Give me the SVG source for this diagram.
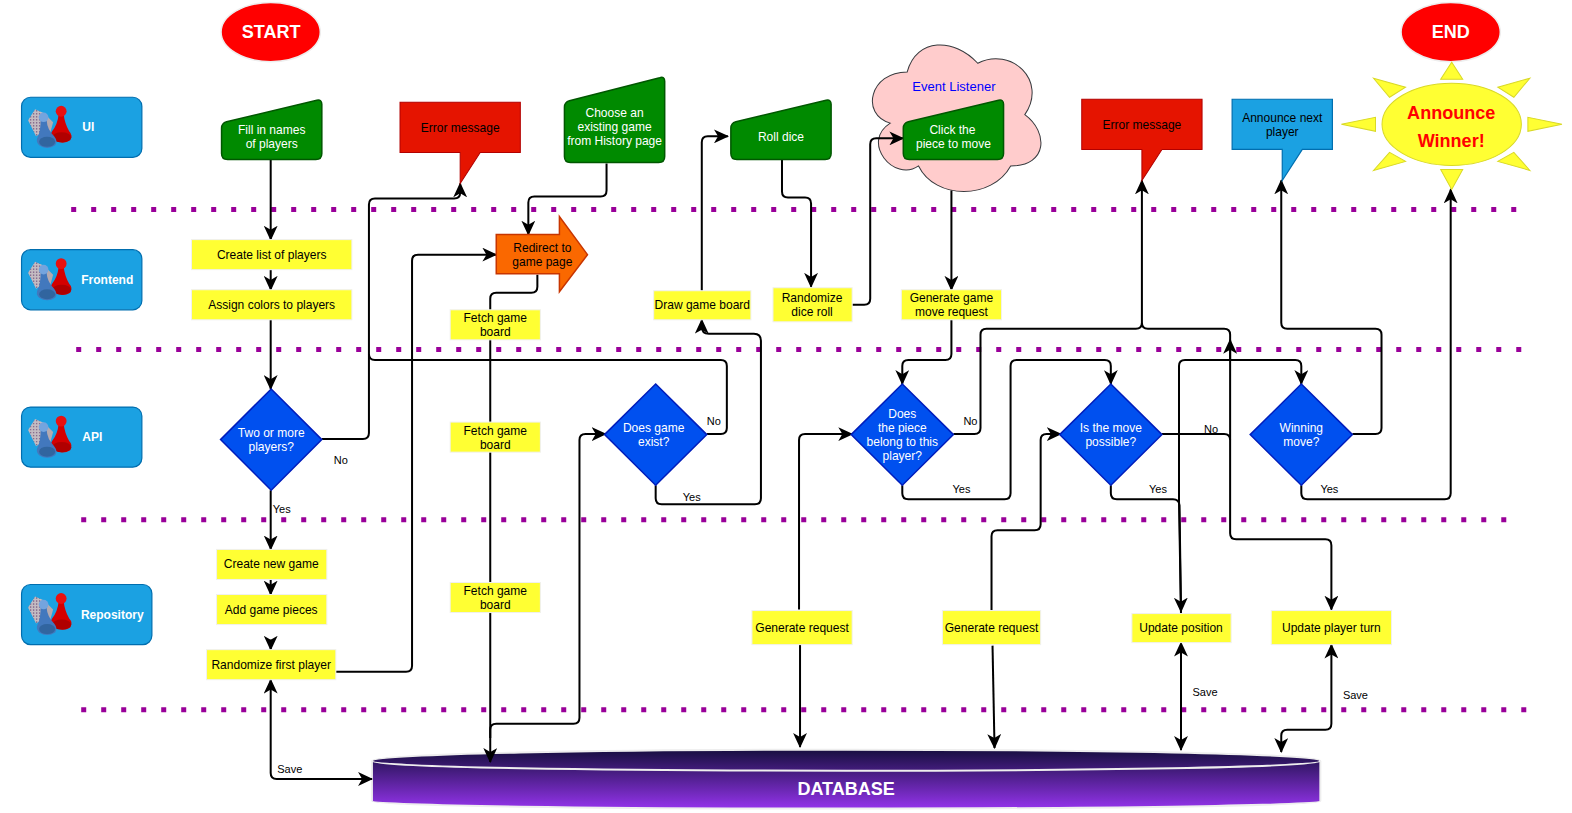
<svg xmlns="http://www.w3.org/2000/svg" width="1572" height="813" viewBox="0 0 1572 813">
<style>
text{font-family:"Liberation Sans",Arial,sans-serif;font-size:12px;text-anchor:middle;dominant-baseline:central;fill:#000}
.w{fill:#fff}
.lab{font-size:11px}
.b{font-weight:bold}
.big{font-size:18px;font-weight:bold;fill:#fff}
.y{fill:#ffff33;stroke:#f0f0f0;stroke-width:1}
.g{fill:#008a00;stroke:#005700;stroke-width:1.5}
.d{fill:#0050ef;stroke:#001dbc;stroke-width:1.5}
.s{fill:#1ba1e2;stroke:#006eaf;stroke-width:1.2}
.r{fill:#e51400;stroke:#b20000;stroke-width:1}
.o{fill:#ff0000;stroke:#eeeeee;stroke-width:1.5}
.ray{fill:#ffff33;stroke:#d9d926;stroke-width:1}
.sep{stroke:#990099;stroke-width:5;stroke-dasharray:5 14.95;fill:none}
.c path{fill:none;stroke:#000;stroke-width:2}
.a{marker-end:url(#ah)}
.aa{marker-start:url(#ah);marker-end:url(#ah)}
</style>
<defs>
<marker id="ah" markerUnits="userSpaceOnUse" markerWidth="15" markerHeight="14" viewBox="0 0 13 12" refX="12" refY="6" orient="auto-start-reverse"><path d="M13,6 L0,0 L3.5,6 L0,12 Z" fill="#000"/></marker>
<linearGradient id="dbg" x1="0" y1="0" x2="0" y2="1"><stop offset="0" stop-color="#170f40"/><stop offset="1" stop-color="#9333ea"/></linearGradient>
<pattern id="dots" width="3" height="3" patternUnits="userSpaceOnUse"><rect width="3" height="3" fill="#c4bcc2"/><circle cx="1.5" cy="1.5" r="0.8" fill="#7a5a84"/></pattern>
<symbol id="icon" width="60" height="60" viewBox="0 0 60 60" overflow="visible">
<path d="M15,12 L8,23 L16,39 L24,34 L24,16 Z" fill="url(#dots)"/>
<path d="M15,12 L24,16 L33,25 L30,36 L24,34 L24,16 Z" fill="#b4aab0"/>
<path d="M38.500,17 Q37.500,27 32,34 Q29,39 33,42 Q42,48 50,43 Q53,38 49,34 Q44.500,26 43.500,17 Z" fill="#d40000"/>
<ellipse cx="41.500" cy="40" rx="9.500" ry="5" fill="#b00000"/>
<circle cx="41" cy="14" r="5.400" fill="#e81010"/>
<path d="M20.500,23 Q20.500,33 18,39 Q15,44 19,48 Q27,53 35,48 Q38,44 34,39 Q27,32 26.500,23 Z" fill="#4278bd"/>
<ellipse cx="27" cy="44.500" rx="8" ry="5" fill="#31659f"/>
<circle cx="23.500" cy="20" r="4.800" fill="#74a4de"/>
</symbol>
</defs>
<g transform="scale(1.00255)">

<g id="database">
<path d="M371,759 C371,744 1317,744 1317,759 V799 C1317,809 371,809 371,799 Z" fill="url(#dbg)" stroke="#eeeeee" stroke-width="2"/>
<path d="M371,759 C371,772 1317,772 1317,759" fill="none" stroke="#eeeeee" stroke-width="2"/>
<text class="big" x="844" y="787">DATABASE</text>
</g>

<g id="separators">
<path class="sep" d="M71,209 H1516"/>
<path class="sep" d="M76,348.500 H1522"/>
<path class="sep" d="M81,518.500 H1506"/>
<path class="sep" d="M81,708 H1526"/>
</g>

<g id="node-event-listener">
<path d="M904.9,71.7 C867.4,71.7 858,114.3 888,122.8 C858,141.6 891.8,182.5 916.2,165.5 C933,199.6 989.3,199.6 1008.1,165.5 C1045.6,165.5 1045.6,131.4 1022.2,114.3 C1045.6,80.2 1008.1,46.1 975.3,63.1 C951.8,37.5 914.3,37.5 904.9,71.7 Z" fill="#ffcccc" stroke="#36393d" stroke-width="1"/>
<text x="951.500" y="86.500" style="fill:#0000ff;font-size:13px">Event Listener</text>
</g>

<g id="connectors" class="c">
<path class="a" d="M270,159 V239"/>
<path class="a" d="M270,269 V289"/>
<path class="a" d="M270,319 V388"/>
<path class="a" d="M321,438 H362 Q368,438 368,432 V204 Q368,198 374,198 H453 Q459,198 459,192 V183"/>
<path d="M705,433 H719 Q725,433 725,427 V365 Q725,359 719,359 H374 Q368,359 368,353"/>
<path class="a" d="M270,489 V548"/>
<path class="a" d="M270,578 V593"/>
<path class="a" d="M270,638 V648"/>
<path class="a" d="M335,670 H405 Q411,670 411,664 V260 Q411,254 417,254 H495"/>
<path class="aa" d="M270,678 V771 Q270,777 276,777 H371"/>
<path class="a" d="M605,163 V190 Q605,196 599,196 H533 Q527,196 527,202 V234"/>
<path class="a" d="M536,274 V286 Q536,292 530,292 H495 Q489,292 489,298 V760"/>
<path class="a" d="M489,736 V728 Q489,722 495,722 H572 Q578,722 578,716 V439 Q578,433 584,433 H604"/>
<path class="a" d="M654,484 V497 Q654,503 660,503 H753 Q759,503 759,497 V340 Q759,333 752,333 H707 Q700,333 700,326 V319"/>
<path class="a" d="M700,290 V142 Q700,136 706,136 H726"/>
<path class="a" d="M780,159 V191 Q780,197 786,197 H803 Q809,197 809,203 V286"/>
<path class="a" d="M850,304 H862 Q868,304 868,298 V144 Q868,138 874,138 H901"/>
<path class="a" d="M949,190 V289"/>
<path class="a" d="M949,319 V353 Q949,359 943,359 H906 Q900,359 900,365 V383"/>
<path class="a" d="M900,484 V492 Q900,498 906,498 H1002 Q1008,498 1008,492 V365 Q1008,359 1014,359 H1102 Q1108,359 1108,365 V383"/>
<path class="a" d="M951,433 H972 Q978,433 978,427 V334 Q978,328 984,328 H1133 Q1139,328 1139,322 V180"/>
<path d="M1227,439 V334 Q1227,328 1221,328 H1145 Q1139,328 1139,322"/>
<path class="a" d="M1227,360 V339"/>
<path class="a" d="M1159,433 H1221 Q1227,433 1227,439 V532 Q1227,538 1233,538 H1322 Q1328,538 1328,544 V608"/>
<path class="a" d="M1108,484 V492 Q1108,498 1114,498 H1170 Q1176,498 1176.500,504 L1178,610"/>
<path class="a" d="M1178,612 L1176,500 V365 Q1176,359 1182,359 H1292 Q1298,359 1298,365 V383"/>
<path class="a" d="M1349,433 H1372 Q1378,433 1378,427 V334 Q1378,328 1372,328 H1284 Q1278,328 1278,322 V180"/>
<path class="a" d="M1298,484 V492 Q1298,498 1304,498 H1441 Q1447,498 1447,492 V189"/>
<path class="a" d="M797,608 V439 Q797,433 803,433 H850"/>
<path class="a" d="M798,643 L798,745"/>
<path class="a" d="M989,609 V535 Q989,529 995,529 H1032 Q1038,529 1038,523 V439 Q1038,433 1044,433 H1058"/>
<path class="a" d="M990,644 L992,746"/>
<path class="aa" d="M1178,641 V748"/>
<path class="aa" d="M1328,643 V722 Q1328,728 1322,728 H1284 Q1278,728 1278,734 V750"/>
</g>

<g id="labels">
<text class="lab" x="340" y="459">No</text>
<text class="lab" x="281" y="508">Yes</text>
<text class="lab" x="712" y="420">No</text>
<text class="lab" x="690" y="496">Yes</text>
<text class="lab" x="968" y="420">No</text>
<text class="lab" x="959" y="488">Yes</text>
<text class="lab" x="1208" y="428">No</text>
<text class="lab" x="1155" y="488">Yes</text>
<text class="lab" x="1326" y="488">Yes</text>
<text class="lab" x="289" y="767">Save</text>
<text class="lab" x="1202" y="690">Save</text>
<text class="lab" x="1352" y="693">Save</text>
</g>

<g id="lane-ui"><rect class="s" x="21.500" y="97" width="120" height="60" rx="9"/><use href="#icon" x="20" y="97"/><text class="b w" x="88" y="127">UI</text></g>
<g id="lane-frontend"><rect class="s" x="21.500" y="249" width="120" height="60" rx="9"/><use href="#icon" x="20" y="249"/><text class="b w" x="107" y="279">Frontend</text></g>
<g id="lane-api"><rect class="s" x="21.500" y="406" width="120" height="60" rx="9"/><use href="#icon" x="20" y="406"/><text class="b w" x="92" y="436">API</text></g>
<g id="lane-repository"><rect class="s" x="21.500" y="583" width="130" height="60" rx="9"/><use href="#icon" x="20" y="583"/><text class="b w" x="112" y="613">Repository</text></g>

<g id="start"><ellipse class="o" cx="270" cy="32" rx="49.500" ry="29.500"/><text class="big" x="270.500" y="32">START</text></g>
<g id="end"><ellipse class="o" cx="1447" cy="32" rx="49.500" ry="29.500"/><text class="big" x="1447" y="32">END</text></g>

<g id="fill-names"><path class="g" d="M221,128 Q221,123 226,121.500 L316,100 Q321,99 321,104 V153 Q321,159 315,159 H227 Q221,159 221,153 Z"/><text class="w" x="271" y="129.500">Fill in names</text><text class="w" x="271" y="143.500">of players</text></g>
<g id="choose-game"><path class="g" d="M563,107 Q563,102 568,100.500 L658,77.500 Q663,76 663,81 V156 Q663,162 657,162 H569 Q563,162 563,156 Z"/><text class="w" x="613" y="112.500">Choose an</text><text class="w" x="613" y="126.500">existing game</text><text class="w" x="613" y="140.500">from History page</text></g>
<g id="roll-dice"><path class="g" d="M729,128 Q729,123 734,121.500 L824,100 Q829,99 829,104 V153 Q829,159 823,159 H735 Q729,159 729,153 Z"/><text class="w" x="779" y="136.500">Roll dice</text></g>
<g id="click-piece"><path class="g" d="M901,128 Q901,123 906,121.500 L996,100 Q1001,99 1001,104 V153 Q1001,159 995,159 H907 Q901,159 901,153 Z"/><text class="w" x="950" y="129.500">Click the</text><text class="w" x="951" y="143.500">piece to move</text></g>

<g id="error-1"><path class="r" d="M399,102 H519 V152 H479 L459,183 V152 H399 Z"/><text x="459" y="127.500">Error message</text></g>
<g id="error-2"><path class="r" d="M1079,99 H1199 V149 H1159 L1139,180 V149 H1079 Z"/><text x="1139" y="124.500">Error message</text></g>
<g id="announce-next"><path class="s" d="M1229,99 H1329 V149 H1299 L1279,180 V149 H1229 Z"/><text x="1279" y="117.500">Announce next</text><text x="1279" y="131.500">player</text></g>

<g id="announce-winner">
<ellipse class="ray" cx="1448" cy="124" rx="69.500" ry="41"/>
<path class="ray" d="M1437,79 H1459 L1448,62 Z"/>
<path class="ray" d="M1437,169 H1459 L1448,189 Z"/>
<path class="ray" d="M1338,124 L1372,117 V131 Z"/>
<path class="ray" d="M1558,124 L1524,117 V131 Z"/>
<path class="ray" d="M1370,78 L1402,87 L1386,97 Z"/>
<path class="ray" d="M1526,78 L1494,87 L1510,97 Z"/>
<path class="ray" d="M1370,170 L1402,161 L1386,152 Z"/>
<path class="ray" d="M1526,170 L1494,161 L1510,152 Z"/>
<text class="b" x="1447.500" y="113" style="font-size:18px;fill:#ff0000">Announce</text>
<text class="b" x="1447.500" y="141" style="font-size:18px;fill:#ff0000">Winner!</text>
</g>

<g id="create-list"><rect class="y" x="191" y="239" width="160" height="30"/><text x="271" y="254">Create list of players</text></g>
<g id="assign-colors"><rect class="y" x="191" y="289" width="160" height="30"/><text x="271" y="304">Assign colors to players</text></g>
<g id="redirect"><path d="M495,234 H558 V216 L586,254 L558,291 V273 H495 Z" fill="#fa6800" stroke="#c73500" stroke-width="1.500"/><text x="541" y="247.500">Redirect to</text><text x="541" y="261.500">game page</text></g>
<g id="fetch-1"><rect class="y" x="449" y="309" width="90" height="30"/><text x="494" y="317">Fetch game</text><text x="494" y="331">board</text></g>
<g id="fetch-2"><rect class="y" x="449" y="421" width="90" height="30"/><text x="494" y="429.500">Fetch game</text><text x="494" y="443.500">board</text></g>
<g id="fetch-3"><rect class="y" x="449" y="581" width="90" height="30"/><text x="494" y="589.500">Fetch game</text><text x="494" y="603.500">board</text></g>
<g id="draw-board"><rect class="y" x="652" y="290" width="97" height="29"/><text x="700.500" y="304">Draw game board</text></g>
<g id="randomize-dice"><rect class="y" x="771" y="287" width="79" height="34"/><text x="810" y="297">Randomize</text><text x="810" y="311">dice roll</text></g>
<g id="generate-move"><rect class="y" x="899" y="289" width="100" height="30"/><text x="949" y="297">Generate game</text><text x="949" y="311">move request</text></g>

<g id="two-players"><path class="d" d="M270.500,388 L321,438.500 L270.500,489 L220,438.500 Z"/><text class="w" x="270.500" y="432">Two or more</text><text class="w" x="270.500" y="446">players?</text></g>
<g id="game-exist"><path class="d" d="M654,383 L705,433.500 L654,484 L603,433.500 Z"/><text class="w" x="652" y="427">Does game</text><text class="w" x="652" y="441">exist?</text></g>
<g id="piece-belong"><path class="d" d="M900,383 L951,433.500 L900,484 L849,433.500 Z"/><text class="w" x="900" y="412.500">Does</text><text class="w" x="900" y="426.500">the piece</text><text class="w" x="900" y="440.500">belong to this</text><text class="w" x="900" y="454.500">player?</text></g>
<g id="move-possible"><path class="d" d="M1108,383 L1159,433.500 L1108,484 L1057,433.500 Z"/><text class="w" x="1108" y="427">Is the move</text><text class="w" x="1108" y="441">possible?</text></g>
<g id="winning-move"><path class="d" d="M1298,383 L1349,433.500 L1298,484 L1247,433.500 Z"/><text class="w" x="1298" y="427">Winning</text><text class="w" x="1298" y="441">move?</text></g>

<g id="create-game"><rect class="y" x="216" y="548" width="110" height="30"/><text x="270.500" y="563">Create new game</text></g>
<g id="add-pieces"><rect class="y" x="216" y="593" width="110" height="30"/><text x="270.500" y="608">Add game pieces</text></g>
<g id="randomize-first"><rect class="y" x="206" y="648" width="129" height="30"/><text x="270.500" y="663">Randomize first player</text></g>
<g id="generate-request-1"><rect class="y" x="750" y="609" width="100" height="34"/><text x="800" y="626.500">Generate request</text></g>
<g id="generate-request-2"><rect class="y" x="940" y="609" width="98" height="34"/><text x="989" y="626.500">Generate request</text></g>
<g id="update-position"><rect class="y" x="1129" y="612" width="99" height="29"/><text x="1178" y="626.500">Update position</text></g>
<g id="update-turn"><rect class="y" x="1268" y="609" width="120" height="34"/><text x="1328" y="626.500">Update player turn</text></g>
</g>
</svg>
